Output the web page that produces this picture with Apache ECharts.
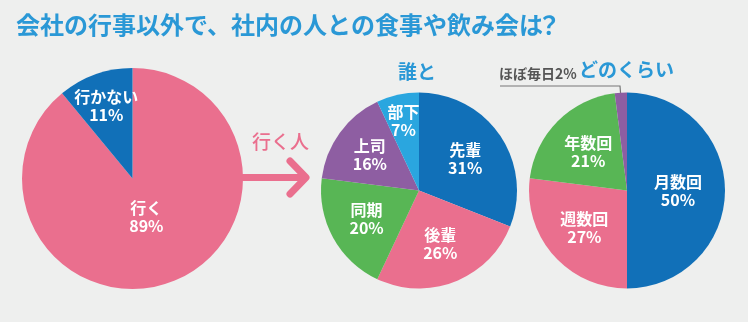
<!DOCTYPE html>
<html lang="ja">
<head>
<meta charset="utf-8">
<title>会社の行事以外で、社内の人との食事や飲み会は？</title>
<script src="https://cdn.jsdelivr.net/npm/echarts@6/dist/echarts.min.js"></script>
<style>
  html, body { margin: 0; padding: 0; background: #eeefee; }
  #chart { width: 748px; height: 322px; }
</style>
</head>
<body>
<div id="chart"></div>
<script>
// ---- data ----
const titleMain = '会社の行事以外で、社内の人との食事や飲み会';
const titleTail = 'は';
const titleMark = '？';

const goNames = ['行く', '行かない'];
const goValues = [89, 11];

const whoTitle = '誰と';
const whoNames = ['先輩', '後輩', '同期', '上司', '部下'];
const whoValues = [31, 26, 20, 16, 7];

const freqTitle = 'どのくらい';
const freqNames = ['月数回', '週数回', '年数回', 'ほぼ毎日'];
const freqValues = [50, 27, 21, 2];

const arrowText = '行く人';

// ---- styling ----
const FONT = '"Noto Sans CJK JP", "Noto Sans", sans-serif';
const BLUE = '#1170b8';
const PINK = '#ea6f8e';
const GREEN = '#58b655';
const PURPLE = '#8e5ea2';
const SKY = '#2aa6df';
const TITLE_BLUE = '#2a98d6';

const goColors = [PINK, BLUE];
const whoColors = [BLUE, PINK, GREEN, PURPLE, SKY];
const freqColors = [BLUE, PINK, GREEN, PURPLE];

// pie geometry (pixels) and label distance from centre as a fraction of radius
const pies = {
  go:   { center: [132.5, 178.5], r: 110.5, labelR: [0.37, 0.70] },
  who:  { center: [419, 190.5],   r: 98,    labelR: [0.57, 0.59, 0.61, 0.62, 0.73] },
  freq: { center: [627, 190.5],   r: 98,    labelR: [0.52, 0.58, 0.56, 0.80] }
};

// mid-angle of slice i (radians, clockwise from 12 o'clock)
function midAngle(values, i) {
  const total = values.reduce((a, b) => a + b, 0);
  let cum = 0;
  for (let k = 0; k < i; k++) cum += values[k];
  return (cum + values[i] / 2) / total * Math.PI * 2;
}
function polar(pie, values, i, f) {
  const a = midAngle(values, i);
  return [pie.center[0] + f * pie.r * Math.sin(a), pie.center[1] - f * pie.r * Math.cos(a)];
}

function pieSeries(pie, names, values, colors, skip) {
  return {
    type: 'pie',
    center: pie.center,
    radius: pie.r,
    startAngle: 90,
    clockwise: true,
    avoidLabelOverlap: false,
    silent: true,
    animation: false,
    itemStyle: { borderWidth: 0 },
    label: {
      show: true,
      position: 'inside',
      formatter: '{b}\n{c}%',
      color: '#ffffff',
      fontFamily: FONT,
      fontWeight: 'bold',
      fontSize: 16,
      lineHeight: 18,
      align: 'center'
    },
    labelLine: { show: false },
    labelLayout: function (p) {
      if (skip && skip.indexOf(p.dataIndex) >= 0) return {};
      const pt = polar(pie, values, p.dataIndex, pie.labelR[p.dataIndex]);
      return { x: pt[0], y: pt[1], align: 'center', verticalAlign: 'middle' };
    },
    data: names.map((n, i) => {
      const d = { name: n, value: values[i], itemStyle: { color: colors[i] } };
      if (skip && skip.indexOf(i) >= 0) d.label = { show: false };
      return d;
    })
  };
}

const chart = echarts.init(document.getElementById('chart'), null, { renderer: 'canvas' });

// small-slice callout for the last frequency item
const lastIdx = freqNames.length - 1;
const dot = polar(pies.freq, freqValues, lastIdx, pies.freq.labelR[lastIdx]);
const calloutText = freqNames[lastIdx] + freqValues[lastIdx] + '%';

const titleStyle = { color: TITLE_BLUE, fontFamily: FONT, fontWeight: 'bold', fontSize: 24 };

const option = {
  backgroundColor: '#eeefee',
  title: {
    text: '{m|' + titleMain + '}{t|' + titleTail + '}{q|' + titleMark + '}',
    left: 16,
    top: 13,
    padding: 0,
    textStyle: {
      rich: {
        m: titleStyle,
        t: Object.assign({ width: 18 }, titleStyle),
        q: titleStyle
      }
    }
  },
  series: [
    pieSeries(pies.go, goNames, goValues, goColors),
    pieSeries(pies.who, whoNames, whoValues, whoColors),
    pieSeries(pies.freq, freqNames, freqValues, freqColors, [lastIdx])
  ],
  graphic: [
    // section headings
    { type: 'text', left: 398, top: 62, style: { text: whoTitle, fill: TITLE_BLUE, font: 'bold 19px ' + FONT } },
    { type: 'text', left: 579, top: 60, style: { text: freqTitle, fill: TITLE_BLUE, font: 'bold 19px ' + FONT } },
    // arrow between first and second pie
    { type: 'text', left: 252, top: 132, style: { text: arrowText, fill: PINK, font: '500 19px ' + FONT } },
    { type: 'line', shape: { x1: 240, y1: 177.5, x2: 305, y2: 177.5 }, style: { stroke: PINK, lineWidth: 7 } },
    { type: 'polyline', shape: { points: [[290, 161], [306, 177.5], [290, 194]] },
      style: { stroke: PINK, lineWidth: 7, lineCap: 'round', lineJoin: 'round', fill: null } },
    // callout for the smallest slice
    { type: 'text', left: 499, top: 67, style: { text: calloutText, fill: '#555555', font: 'bold 14px ' + FONT } },
    { type: 'polyline', shape: { points: [[500, 86], [620, 86], [dot[0], dot[1]]] },
      style: { stroke: '#777777', lineWidth: 1.2, fill: null } },
    { type: 'circle', shape: { cx: dot[0], cy: dot[1], r: 3.2 }, style: { fill: '#444444' } }
  ]
};

chart.setOption(option);
</script>
</body>
</html>
